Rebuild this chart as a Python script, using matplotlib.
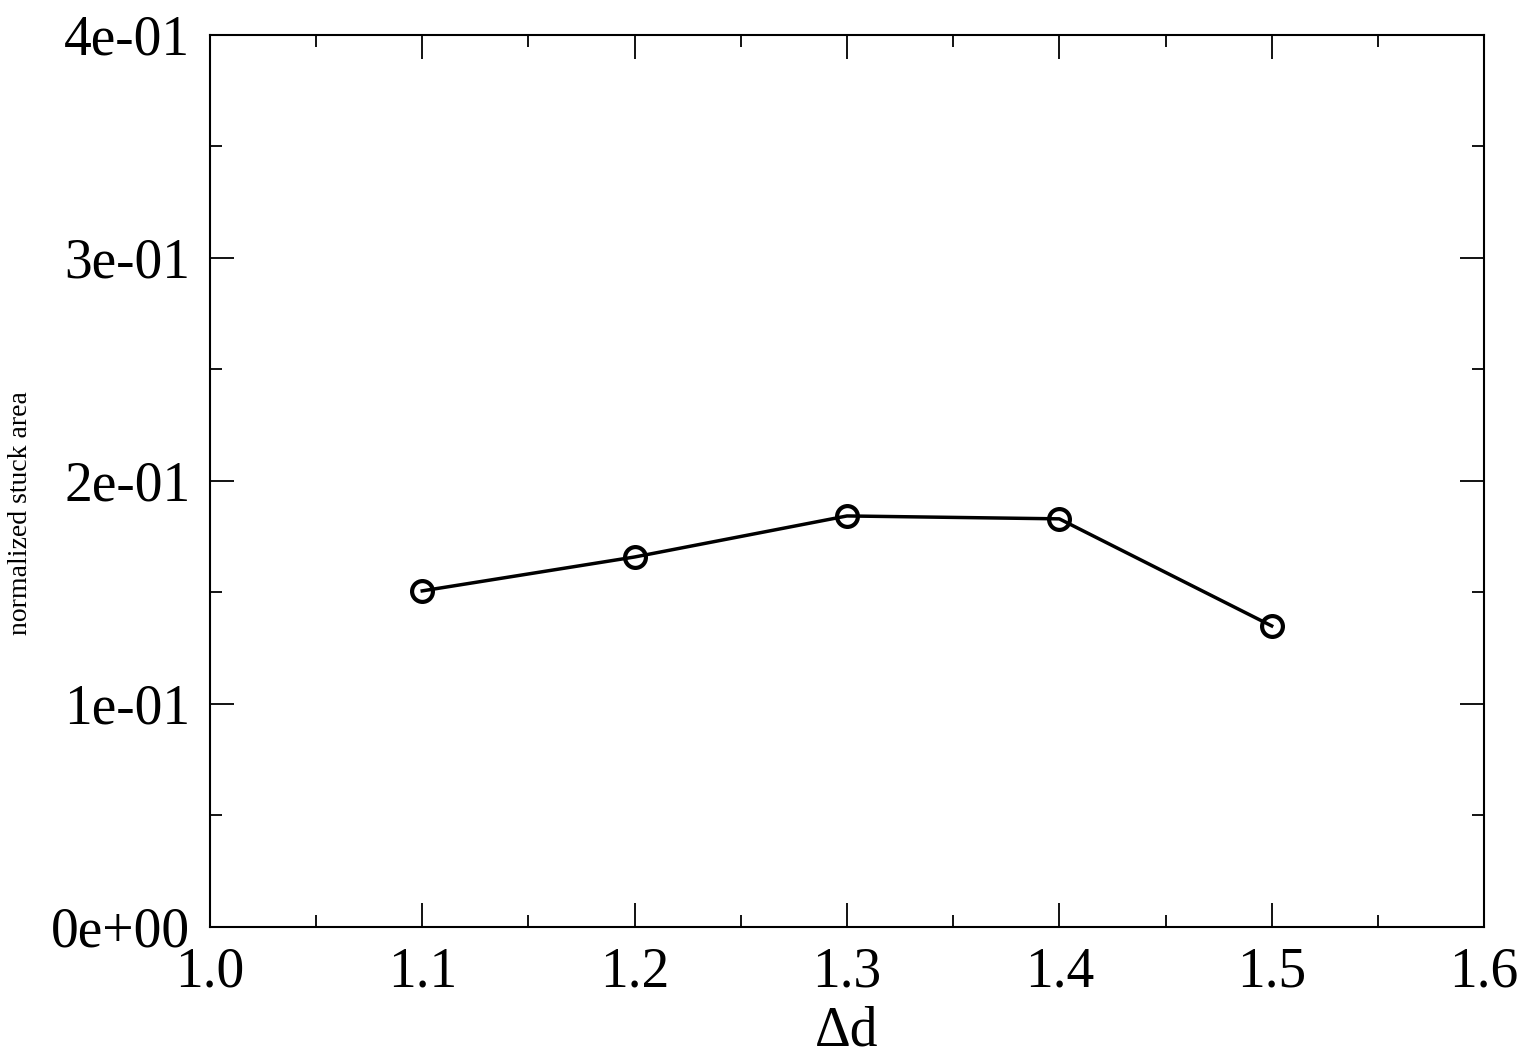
import matplotlib
matplotlib.use('Agg')
import matplotlib.pyplot as plt
from matplotlib.ticker import MultipleLocator, FuncFormatter

plt.rcParams['font.family'] = ['Liberation Serif', 'DejaVu Serif']

delta_d = [1.1, 1.2, 1.3, 1.4, 1.5]
stuck_area = [0.1507, 0.1659, 0.1843, 0.1830, 0.1350]

fig = plt.figure(figsize=(15.21, 10.57), dpi=100)
ax = fig.add_axes([0.138, 0.123, 0.8377, 0.844])

ax.plot(delta_d, stuck_area, color='black', lw=2.5, marker='o', markersize=15,
        markerfacecolor='none', markeredgewidth=3.0, markeredgecolor='black')

ax.set_xlim(1.0, 1.6)
ax.set_ylim(0, 0.4)
ax.xaxis.set_major_locator(MultipleLocator(0.1))
ax.xaxis.set_minor_locator(MultipleLocator(0.05))
ax.yaxis.set_major_locator(MultipleLocator(0.1))
ax.yaxis.set_minor_locator(MultipleLocator(0.05))
ax.xaxis.set_major_formatter(FuncFormatter(lambda v, p: f'{v:.1f}'))
ax.yaxis.set_major_formatter(FuncFormatter(lambda v, p: f'{v:.0e}'))

ax.tick_params(which='both', direction='in', top=True, right=True, labelsize=40, width=1.3)
ax.tick_params(which='major', length=17, pad=14)
ax.tick_params(which='minor', length=8.5)
for s in ax.spines.values():
    s.set_linewidth(1.5)

ax.set_xlabel('Δd', fontsize=40, labelpad=5)
ax.set_ylabel('normalized stuck area', fontsize=20)
ax.yaxis.set_label_coords(-0.139, 0.464)

fig.savefig('out.png', dpi=100)
